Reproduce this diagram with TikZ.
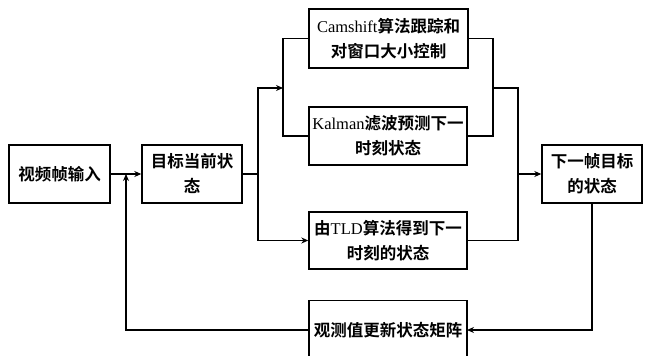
\documentclass[tikz,border=0pt]{standalone}
\usepackage{fontspec}
\setmainfont{Noto Sans CJK SC}[BoldFont=* Bold]
\newfontfamily\lat{Liberation Serif}
\usetikzlibrary{arrows.meta,calc}
\begin{document}
\begin{tikzpicture}[x=1pt,y=-1pt,
  box/.style={draw=black,line width=1.4pt,rectangle,align=center,inner sep=0pt,
    font=\fontsize{16.5}{25}\selectfont\bfseries},
  wire/.style={line width=1.4pt,draw=black},
  arr/.style={wire,-{Stealth[length=7pt,width=6pt]}}]
\useasboundingbox (0,0) rectangle (648,356);
\clip (0,0) rectangle (648,356);
\fill[white] (0,0) rectangle (648,356);
\node[box,minimum width=101pt,minimum height=58pt] (in) at (59.5,174) {视频帧输入};
\node[box,minimum width=100pt,minimum height=58pt] (cur) at (192,174) {目标当前状\\态};
\node[box,minimum width=159pt,minimum height=59pt] (cam) at (388.5,38.5) {{\lat\mdseries Camshift}算法跟踪和\\对窗口大小控制};
\node[box,minimum width=158pt,minimum height=58pt] (kal) at (388,136) {{\lat\mdseries Kalman}滤波预测下一\\时刻状态};
\node[box,minimum width=158pt,minimum height=57pt] (tld) at (388,240.5) {由{\lat\mdseries TLD}算法得到下一\\时刻的状态};
\node[box,minimum width=100pt,minimum height=58pt] (next) at (592,174) {下一帧目标\\的状态};
\node[box,minimum width=158pt,minimum height=64pt,anchor=north] (obs) at (388,300) {};
\node[font=\fontsize{16.5}{25}\selectfont\bfseries] (obst) at (388,330) {观测值更新状态矩阵};
\coordinate (mid) at ($(in.east)!0.5!(cur.west)$);
\coordinate (b1) at (258,174);
\coordinate (b2) at (283,88);
\coordinate (c1) at (493,88);
\coordinate (c2top) at (518,88);
\coordinate (c2) at (518,174);
\coordinate (obsw) at (309,330);
\coordinate (obse) at (467,330);
\draw[arr] (in.east) -- (cur.west);
\draw[arr] (obsw) -| (mid);
\draw[wire] (cur.east) -- (b1);
\draw[arr] (b1) |- (tld.west);
\draw[arr] (b1) |- (b2);
\draw[wire] (cam.west) -| (b2) |- (kal.west);
\draw[wire] (cam.east) -| (c1) |- (kal.east);
\draw[wire] (c1) -- (c2top) -- (c2);
\draw[wire] (tld.east) -| (c2);
\draw[arr] (c2) -- (next.west);
\draw[arr] (next.south) |- (obse);
\end{tikzpicture}
\end{document}
